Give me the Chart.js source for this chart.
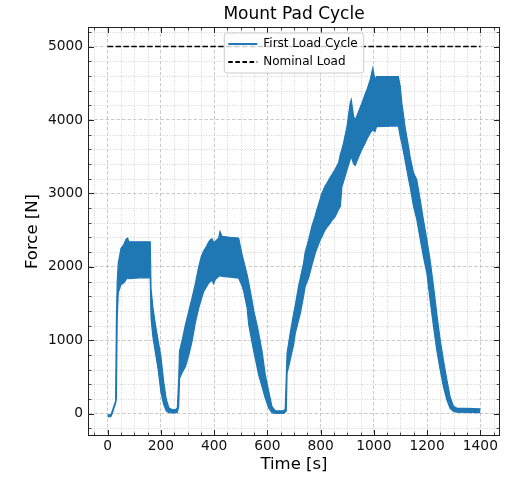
<!DOCTYPE html>
<html>
<head>
<meta charset="utf-8">
<script src="https://cdn.jsdelivr.net/npm/chart.js@4.4.1/dist/chart.umd.min.js"></script>
<style>
html,body{margin:0;padding:0;background:#fff;}
canvas{display:block;}
</style>
</head>
<body>
<canvas id="c" width="505" height="478"></canvas>
<script>
// ---- data ----
const time = [0,12,18,25,30,33,36,40,45,50,60,70,75,80,120,160,163,170,180,190,200,210,220,230,240,255,262,267,270,
  280,292,305,317,330,342,352,361,370,380,386,392,398,405,417,422,430,460,492,505,511,524,530,543,549,561,567,580,592,605,617,630,660,667,671,674,
  680,686,699,705,717,724,736,742,755,767,780,786,799,805,817,824,836,842,855,867,874,880,886,899,911,915,924,930,941,955,967,974,986,996,1004,1010,1092,
  1099,1105,1117,1130,1136,1149,1161,1174,1186,1199,1211,1224,1236,1249,1261,1274,1286,1299,1311,1350,1400];
// upper edge of the oscillating load band [N]
const upperForce = [-15,-15,40,120,170,1300,1800,2050,2150,2250,2300,2380,2390,2340,2340,2340,1700,1450,1200,990,780,450,200,80,60,55,80,480,850,
  1000,1210,1400,1574,1780,2000,2140,2220,2270,2340,2368,2380,2330,2350,2391,2480,2414,2400,2391,2164,2080,1892,1780,1529,1400,1211,1100,848,531,304,100,40,40,60,500,826,
  962,1100,1370,1480,1733,1850,2051,2200,2368,2550,2700,2777,2930,3004,3100,3140,3220,3253,3330,3412,3530,3600,3684,3910,4229,4275,4047,4000,4100,4229,4350,4410,4546,4705,4546,4590,4590,
  4455,4229,3910,3638,3500,3276,3185,2913,2640,2368,2096,1733,1370,1007,735,463,236,100,77,72,65];
// lower edge of the oscillating load band [N]
const lowerForce = [-40,-40,10,90,140,220,1300,1650,1700,1760,1780,1830,1850,1840,1850,1850,1300,1050,820,600,300,130,40,15,10,10,20,100,480,
  560,640,800,985,1250,1438,1560,1665,1720,1779,1800,1820,1770,1830,1869,1880,1870,1860,1847,1740,1665,1438,1211,960,848,640,531,366,213,77,15,5,5,20,40,553,
  640,735,950,1098,1270,1370,1600,1733,1850,2020,2187,2250,2368,2410,2504,2540,2595,2630,2686,2780,2822,3094,3160,3321,3460,3502,3400,3380,3480,3600,3684,3740,3820,3866,3840,3910,3920,
  3775,3680,3457,3200,3094,2822,2650,2380,2140,1915,1552,1188,871,599,372,190,77,32,20,18,15];
const nominalTime = [0, 1400];
const nominalForce = [5000, 5000];
const seriesLabels = ['First Load Cycle', 'Nominal Load'];
const xTickValues = [0, 200, 400, 600, 800, 1000, 1200, 1400];
const yTickValues = [0, 1000, 2000, 3000, 4000, 5000];
const xTickLabels = ['0', '200', '400', '600', '800', '1000', '1200', '1400'];
const yTickLabels = ['0', '1000', '2000', '3000', '4000', '5000'];

// minor tick positions (no labels)
const xMinor = []; for (let v = -50; v <= 1450; v += 50) if (v % 200 !== 0) xMinor.push(v);
const yMinor = []; for (let v = -200; v <= 5200; v += 200) if (v % 1000 !== 0) yMinor.push(v);

const BLUE = '#1f77b4';
const FONT = 'DejaVu Sans';
Chart.defaults.font.family = FONT;
Chart.defaults.color = '#000';

function drawLegendLayer(chart) {
  const lg = chart.legend;
  if (!lg || !lg.options.display) return;
  const ca = chart.chartArea;
  const ctx = chart.ctx;
  ctx.save();
  ctx.font = '12px "' + FONT + '"';
  let tw = 0;
  (lg.legendItems || []).forEach(it => { tw = Math.max(tw, ctx.measureText(it.text).width); });
  const bw = tw + 45, bh = 40;
  const bx = (ca.left + ca.right) / 2 - bw / 2;
  const by = ca.top + 5;
  const r = 3;
  ctx.beginPath();
  ctx.moveTo(bx + r, by);
  ctx.arcTo(bx + bw, by, bx + bw, by + bh, r);
  ctx.arcTo(bx + bw, by + bh, bx, by + bh, r);
  ctx.arcTo(bx, by + bh, bx, by, r);
  ctx.arcTo(bx, by, bx + bw, by, r);
  ctx.closePath();
  ctx.fillStyle = 'rgba(255,255,255,0.8)';
  ctx.fill();
  ctx.lineWidth = 1;
  ctx.strokeStyle = '#cccccc';
  ctx.stroke();
  ctx.restore();
  const dx = (bx - 2) - lg.left, dy = (by - 1) - lg.top;
  lg.left += dx; lg.right += dx; lg.top += dy; lg.bottom += dy;
  lg.draw(ca);
}

const framePlugin = {
  id: 'frameTicks',
  beforeLayout(chart) {
    const lg = chart.legend;
    if (lg && !lg._patchedLayer) {
      lg._layers = () => [{ z: 10, draw: () => drawLegendLayer(chart) }];
      lg._patchedLayer = true;
    }
  },
  beforeDatasetsDraw(chart) {
    const { ctx, chartArea: a, scales: { x, y } } = chart;
    ctx.save();
    ctx.strokeStyle = '#c6c6c6';
    ctx.lineWidth = 0.8;
    ctx.setLineDash([1, 1.6]);
    xMinor.forEach(v => {
      const p = Math.round(x.getPixelForValue(v)) + 0.5;
      ctx.beginPath(); ctx.moveTo(p, a.top); ctx.lineTo(p, a.bottom); ctx.stroke();
    });
    yMinor.forEach(v => {
      const p = Math.round(y.getPixelForValue(v)) + 0.5;
      ctx.beginPath(); ctx.moveTo(a.left, p); ctx.lineTo(a.right, p); ctx.stroke();
    });
    ctx.restore();
  },
  afterDatasetsDraw(chart) {
    const { ctx, chartArea: a, scales: { x, y } } = chart;
    ctx.save();
    ctx.strokeStyle = '#222';
    ctx.setLineDash([]);
    const tickX = (vals, len, w) => {
      ctx.lineWidth = w;
      vals.forEach(v => {
        const p = Math.round(x.getPixelForValue(v)) + 0.5;
        ctx.beginPath();
        ctx.moveTo(p, a.bottom); ctx.lineTo(p, a.bottom - len);
        ctx.moveTo(p, a.top); ctx.lineTo(p, a.top + len);
        ctx.stroke();
      });
    };
    const tickY = (vals, len, w) => {
      ctx.lineWidth = w;
      vals.forEach(v => {
        const p = Math.round(y.getPixelForValue(v)) + 0.5;
        ctx.beginPath();
        ctx.moveTo(a.left, p); ctx.lineTo(a.left + len, p);
        ctx.moveTo(a.right, p); ctx.lineTo(a.right - len, p);
        ctx.stroke();
      });
    };
    tickX(xTickValues, 5, 1);
    tickX(xMinor, 2.5, 0.8);
    tickY(yTickValues, 5, 1);
    tickY(yMinor, 2.5, 0.8);
    ctx.lineWidth = 1;
    ctx.strokeStyle = '#222';
    ctx.strokeRect(Math.round(a.left) - 0.5, Math.round(a.top) - 0.5, Math.round(a.right - a.left) + 1, Math.round(a.bottom - a.top) + 1);
    ctx.restore();
  }
};

const upperData = time.map((t, i) => ({ x: t, y: upperForce[i] }));
const lowerData = time.map((t, i) => ({ x: t, y: lowerForce[i] }));
const nominalData = nominalTime.map((t, i) => ({ x: t, y: nominalForce[i] }));

new Chart(document.getElementById('c'), {
  type: 'line',
  data: {
    datasets: [
      { label: seriesLabels[0], data: upperData, borderColor: BLUE, backgroundColor: BLUE,
        borderWidth: 1.2, pointRadius: 0, fill: '+1', tension: 0 },
      { label: '', data: lowerData, borderColor: BLUE, backgroundColor: BLUE,
        borderWidth: 1.2, pointRadius: 0, fill: false, tension: 0 },
      { label: seriesLabels[1], data: nominalData, borderColor: '#000', backgroundColor: '#000',
        borderWidth: 1.6, borderDash: [5.5, 2.4], pointRadius: 0, fill: false }
    ]
  },
  options: {
    responsive: false,
    animation: false,
    events: [],
    layout: { padding: { right: 6, left: 0, top: 0, bottom: 0 } },
    plugins: {
      title: {
        display: true, text: 'Mount Pad Cycle', fullSize: false, color: '#000',
        font: { family: FONT, size: 17, weight: 'normal', lineHeight: 1.2 },
        padding: { top: 4, bottom: 3.6 }
      },
      legend: {
        position: 'chartArea', align: 'start',
        labels: {
          usePointStyle: true, pointStyle: 'line', pointStyleWidth: 29, padding: 6,
          color: '#000', font: { family: FONT, size: 12 },
          generateLabels(chart) {
            const items = Chart.defaults.plugins.legend.labels.generateLabels(chart);
            return items.filter(it => it.text).map(it => {
              const ds = chart.data.datasets[it.datasetIndex];
              return Object.assign(it, {
                lineWidth: 1.8,
                strokeStyle: ds.borderColor,
                lineDash: ds.borderDash ? [4.5, 2.6] : []
              });
            });
          }
        }
      },
      tooltip: { enabled: false }
    },
    scales: {
      x: {
        type: 'linear', min: -70, max: 1470,
        afterBuildTicks: s => { s.ticks = xTickValues.map(v => ({ value: v })); },
        afterFit: s => { s.height = 43; },
        ticks: { padding: 3.4, color: '#111', font: { family: FONT, size: 13.8 }, maxRotation: 0,
          callback: (v) => xTickLabels[xTickValues.indexOf(v)] },
        grid: { color: '#bdbdbd', lineWidth: 0.8, drawTicks: false },
        border: { display: false, dash: [3.5, 2] },
        title: { display: true, text: 'Time [s]', color: '#000',
          font: { family: FONT, size: 16.5, lineHeight: 1.2 }, padding: { top: 0, bottom: 3.1 } }
      },
      y: {
        type: 'linear', min: -290, max: 5252,
        afterBuildTicks: s => { s.ticks = yTickValues.map(v => ({ value: v })); },
        afterFit: s => { s.width = 89; },
        ticks: { padding: 6, color: '#111', font: { family: FONT, size: 13.8 },
          callback: (v) => yTickLabels[yTickValues.indexOf(v)] },
        grid: { color: '#bdbdbd', lineWidth: 0.8, drawTicks: false },
        border: { display: false, dash: [3.5, 2] },
        title: { display: true, text: 'Force [N]', color: '#000',
          font: { family: FONT, size: 16.5, lineHeight: 1.2 }, padding: { top: 23.1, bottom: 0 } }
      }
    }
  },
  plugins: [framePlugin]
});
</script>
</body>
</html>
